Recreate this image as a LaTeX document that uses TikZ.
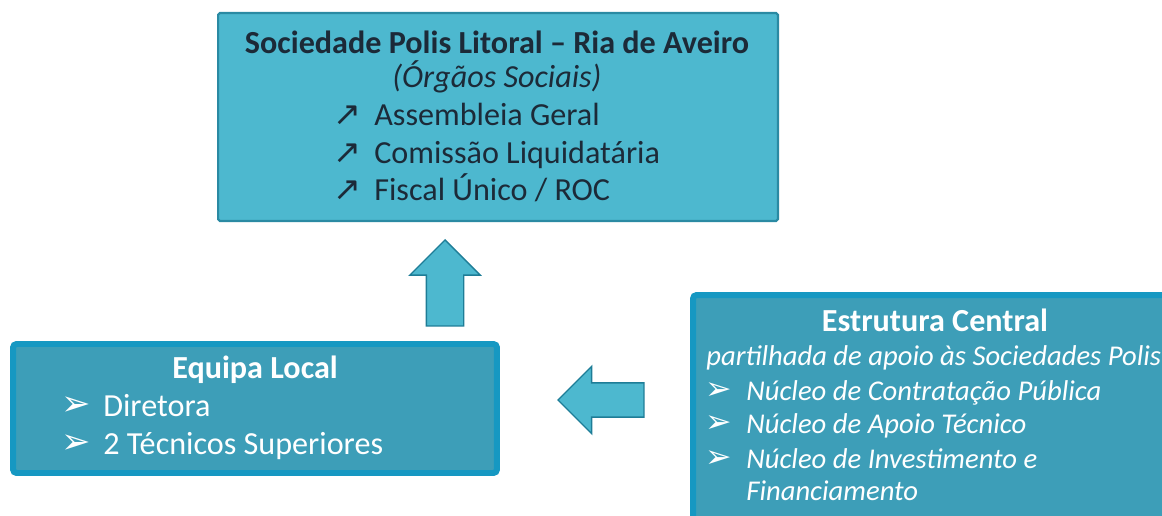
\documentclass[tikz,border=0pt]{standalone}
\usepackage{fontspec}
\setmainfont{Carlito}
\newfontfamily\symfont{DejaVu Sans}
\usetikzlibrary{shapes.arrows}

\definecolor{topfill}{HTML}{4DB8CF}
\definecolor{topline}{HTML}{2A8AA3}
\definecolor{boxfill}{HTML}{3D9EB8}
\definecolor{boxline}{HTML}{1698C2}
\definecolor{navytext}{HTML}{1C2A38}
\definecolor{arrowline}{HTML}{1E7D97}

\begin{document}
\begin{tikzpicture}[x=0.02cm,y=-0.02cm]
	\clip (0,0) rectangle (1162,516);
	
	\tikzstyle{topbox}=[rectangle,
	draw=topline,
	fill=topfill,
	line width=1.2pt,
	rounded corners=1pt,
	inner sep=0pt
	]
	\tikzstyle{teambox}=[rectangle,
	draw=boxline,
	fill=boxfill,
	line width=3.4pt,
	rounded corners=2pt,
	inner sep=0pt,
	minimum width=9.68cm
	]
	\tikzstyle{blockarrow}=[single arrow,
	draw=arrowline,
	fill=topfill,
	line width=0.8pt,
	minimum height=1.72cm,
	single arrow head extend=0.33cm
	]
	\tikzstyle{toptext}=[text=navytext,
	inner sep=0pt,
	font=\fontsize{18.3}{22}\selectfont
	]
	\tikzstyle{whitetext}=[text=white,
	inner sep=0pt,
	font=\fontsize{18.3}{22}\selectfont
	]
	\tikzstyle{smalltext}=[text=white,
	inner sep=0pt,
	font=\fontsize{16.3}{20}\selectfont
	]
	
	% boxes
	\node[topbox, minimum width=11.2cm, minimum height=4.16cm] (orgaos) at (498,117) {};
	\node[teambox, minimum height=2.58cm] (local) at (255,408.5) {};
	\node[teambox, minimum height=4.7cm] (central) at (935,412.5) {};
	
	% block arrows
	\node[blockarrow, shape border rotate=90, inner xsep=0.36cm, inner ysep=0pt, anchor=tip] (uparrow) at (445,239) {};
	\node[blockarrow, shape border rotate=180, inner xsep=0pt, inner ysep=0.33cm, anchor=tip] (leftarrow) at (557,400) {};
	
	% top box text
	\node[toptext, anchor=base] (title) at (497,54) {\bfseries Sociedade Polis Litoral -- Ria de Aveiro};
	\node[toptext, anchor=base] (sub) at (497,88) {\itshape (Órgãos Sociais)};
	\node[toptext, anchor=base west] (b1) at (333,126) {{\symfont\fontsize{19}{22}\selectfont ↗}};
	\node[toptext, anchor=base west] (b2) at (333,164) {{\symfont\fontsize{19}{22}\selectfont ↗}};
	\node[toptext, anchor=base west] (b3) at (333,201) {{\symfont\fontsize{19}{22}\selectfont ↗}};
	\node[toptext, anchor=base west] (t1) at (374,126) {Assembleia Geral};
	\node[toptext, anchor=base west] (t2) at (374,164) {Comissão Liquidatária};
	\node[toptext, anchor=base west] (t3) at (374,201) {Fiscal Único / ROC};
	
	% local team text
	\node[whitetext, anchor=base] (ltitle) at (255,379) {\bfseries Equipa Local};
	\node[whitetext, anchor=base west] (lb1) at (61,416) {{\symfont\fontsize{20}{22}\selectfont ➢}};
	\node[whitetext, anchor=base west] (lb2) at (61,453) {{\symfont\fontsize{20}{22}\selectfont ➢}};
	\node[whitetext, anchor=base west] (lt1) at (103,417) {Diretora};
	\node[whitetext, anchor=base west] (lt2) at (103,454) {2 Técnicos Superiores};
	
	% central structure text
	\node[whitetext, anchor=base] (ctitle) at (935,332) {\bfseries Estrutura Central};
	\node[smalltext, anchor=base west] (csub) at (706,366) {\itshape partilhada de apoio às Sociedades Polis};
	\node[smalltext, anchor=base west] (cb1) at (705,399) {{\symfont\fontsize{18}{20}\selectfont ➢}};
	\node[smalltext, anchor=base west] (cb2) at (705,433) {{\symfont\fontsize{18}{20}\selectfont ➢}};
	\node[smalltext, anchor=base west] (cb3) at (705,467) {{\symfont\fontsize{18}{20}\selectfont ➢}};
	\node[smalltext, anchor=base west] (ct1) at (746,400) {\itshape Núcleo de Contratação Pública};
	\node[smalltext, anchor=base west] (ct2) at (746,434) {\itshape Núcleo de Apoio Técnico};
	\node[smalltext, anchor=base west] (ct3) at (746,468) {\itshape Núcleo de Investimento e};
	\node[smalltext, anchor=base west] (ct4) at (746,500) {\itshape Financiamento};
	
\end{tikzpicture}
\end{document}
